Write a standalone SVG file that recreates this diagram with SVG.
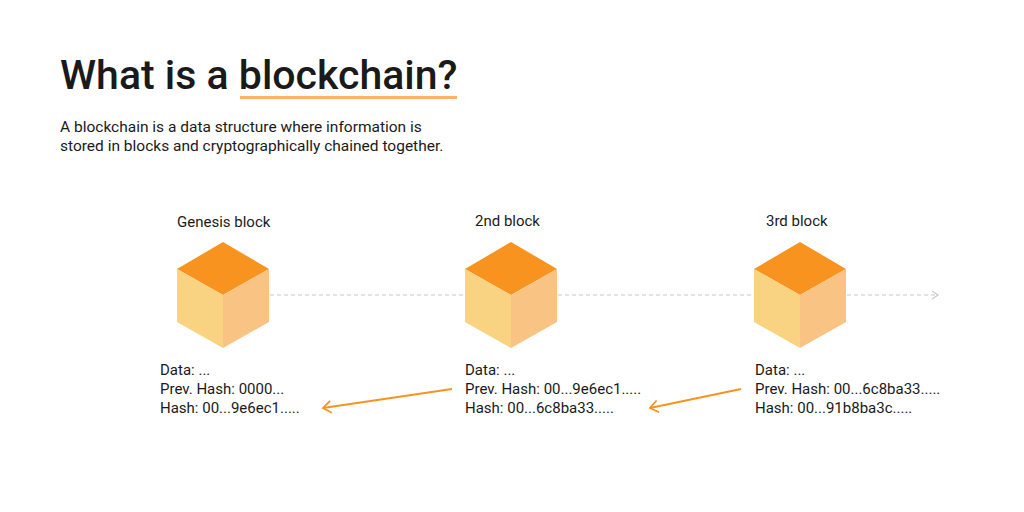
<svg xmlns="http://www.w3.org/2000/svg" width="1024" height="512" viewBox="0 0 1024 512">
<style>
text{font-family:Roboto,"Liberation Sans",sans-serif;fill:#1a1a1a}
.lbl{font-size:15px}
.t{fill:#f7931e}.l{fill:#f9d282}.r{fill:#f8c383}
.dash{stroke:#c8c8c8;stroke-width:1.2;stroke-dasharray:4 3;fill:none}
.ar{stroke:#f7931e;stroke-width:1.8;fill:none}
</style>
<defs>
<g id="cube"><polygon class="t" points="0,-53 46,-26 0,0 -46,-26"/><polygon class="l" points="-46,-26 0,0 0,53 -46,27"/><polygon class="r" points="46,-26 0,0 0,53 46,27"/></g>
<marker id="g" markerWidth="10" markerHeight="10" refX="8" refY="5" orient="auto" markerUnits="userSpaceOnUse"><path d="M2,1 L8,5 L2,9" fill="none" stroke="#c8c8c8" stroke-width="1.2"/></marker>
<marker id="o" markerWidth="14" markerHeight="14" refX="11" refY="7" orient="auto" markerUnits="userSpaceOnUse"><path d="M3,1 L11,7 L3,13" fill="none" stroke="#f7931e" stroke-width="1.8"/></marker>
</defs>
<rect width="1024" height="512" fill="#fff"/>
<text x="60" y="89" font-size="41" font-weight="500">What is a blockchain?</text>
<rect x="240" y="96" width="217" height="3" fill="#f9b36a"/>
<text x="60" y="132" font-size="15.5">A blockchain is a data structure where information is</text>
<text x="60" y="151" font-size="15.5">stored in blocks and cryptographically chained together.</text>
<g id="connectors">
<line class="dash" x1="270" y1="295" x2="464" y2="295"/>
<line class="dash" x1="558" y1="295" x2="753" y2="295"/>
<line class="dash" x1="847" y1="295" x2="938" y2="295" marker-end="url(#g)"/>
<line class="ar" x1="452" y1="389" x2="323" y2="408" marker-end="url(#o)"/>
<line class="ar" x1="741" y1="389" x2="650" y2="408" marker-end="url(#o)"/>
</g>
<g id="genesis"><use href="#cube" x="223" y="295"/><text class="lbl" x="177" y="227">Genesis block</text>
<text class="lbl" x="160" y="375">Data: ...</text><text class="lbl" x="160" y="394">Prev. Hash: 0000...</text><text class="lbl" x="160" y="413">Hash: 00...9e6ec1.....</text></g>
<g id="block2"><use href="#cube" x="511" y="295"/><text class="lbl" x="475" y="226">2nd block</text>
<text class="lbl" x="465" y="375">Data: ...</text><text class="lbl" x="465" y="394">Prev. Hash: 00...9e6ec1.....</text><text class="lbl" x="465" y="413">Hash: 00...6c8ba33.....</text></g>
<g id="block3"><use href="#cube" x="800" y="295"/><text class="lbl" x="766" y="226">3rd block</text>
<text class="lbl" x="755" y="375">Data: ...</text><text class="lbl" x="755" y="394">Prev. Hash: 00...6c8ba33.....</text><text class="lbl" x="755" y="413">Hash: 00...91b8ba3c.....</text></g>
</svg>
